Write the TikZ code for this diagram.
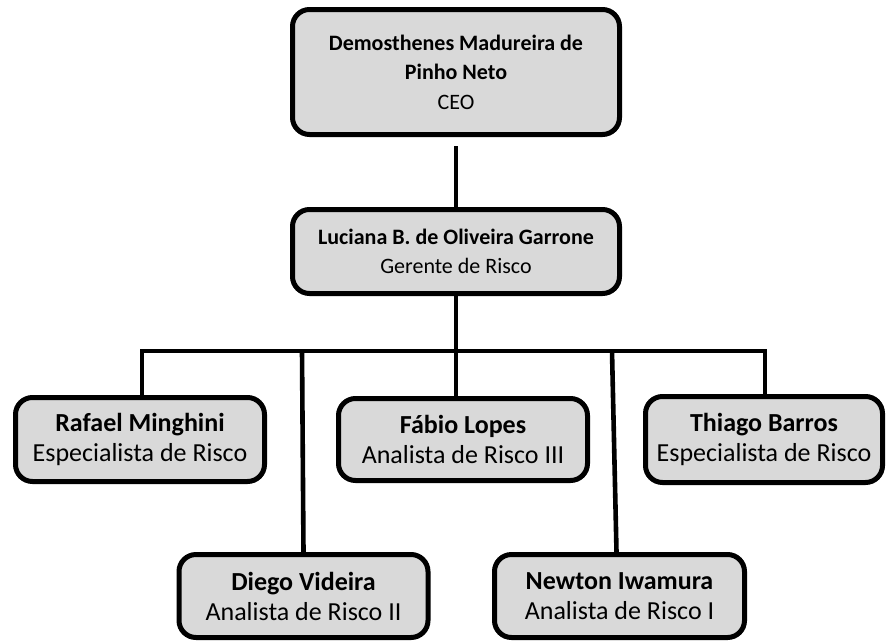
\documentclass[tikz,border=0pt]{standalone}
\usepackage{fontspec}
\setmainfont{Carlito}
\definecolor{boxgray}{HTML}{D9D9D9}

\begin{document}
\begin{tikzpicture}[x=1pt,y=-1pt,
  box/.style = {draw, fill=boxgray, line width=5pt, rounded corners=17pt, align=center,
    inner sep=0pt, font=\fontsize{22}{29.5}\selectfont},
  low/.style = {box, minimum width=249pt, minimum height=84pt, font=\fontsize{26}{30}\selectfont},
  link/.style = {line width=4.6pt}]
\useasboundingbox (0,0) rectangle (888,643);
\node[box, minimum width=327pt, minimum height=125pt] (ceo) at (456,72) {\textbf{Demosthenes Madureira de}\\\textbf{Pinho Neto}\\CEO};
\node[box, minimum width=327pt, minimum height=84pt] (gerente) at (456,251.5) {\textbf{Luciana B. de Oliveira Garrone}\\Gerente de Risco};
\node[low] (rafael) at (140,439.5) {\textbf{Rafael Minghini}\\Especialista de Risco};
\node[low, minimum height=82pt] (fabio) at (463,439.5) {\textbf{Fábio Lopes}\\Analista de Risco III};
\node[low, minimum width=237pt, minimum height=86pt] (thiago) at (764,439.5) {\textbf{Thiago Barros}\\Especialista de Risco};
\node[low, minimum height=83pt] (diego) at (303.5,596) {\textbf{Diego Videira}\\Analista de Risco II};
\node[low, minimum width=250pt, minimum height=83pt] (newton) at (619.5,596) {\textbf{Newton Iwamura}\\Analista de Risco I};
% barra horizontal
\coordinate (barL) at (142,351);
\coordinate (barR) at (765,351);
\coordinate (dtop) at (302,351);
\coordinate (ntop) at (612,351);
\draw[link, shorten <=9pt] (ceo.south) -- (gerente.north);
\draw[link] (gerente.south) -- (gerente.south |- fabio.north);
\draw[link] (barL |- rafael.north) -- (barL) -- (barR) -- (barR |- thiago.north);
\draw[link] (dtop) -- (diego.north);
\draw[link] (ntop) -- ([xshift=-3pt]newton.north);
\end{tikzpicture}
\end{document}
